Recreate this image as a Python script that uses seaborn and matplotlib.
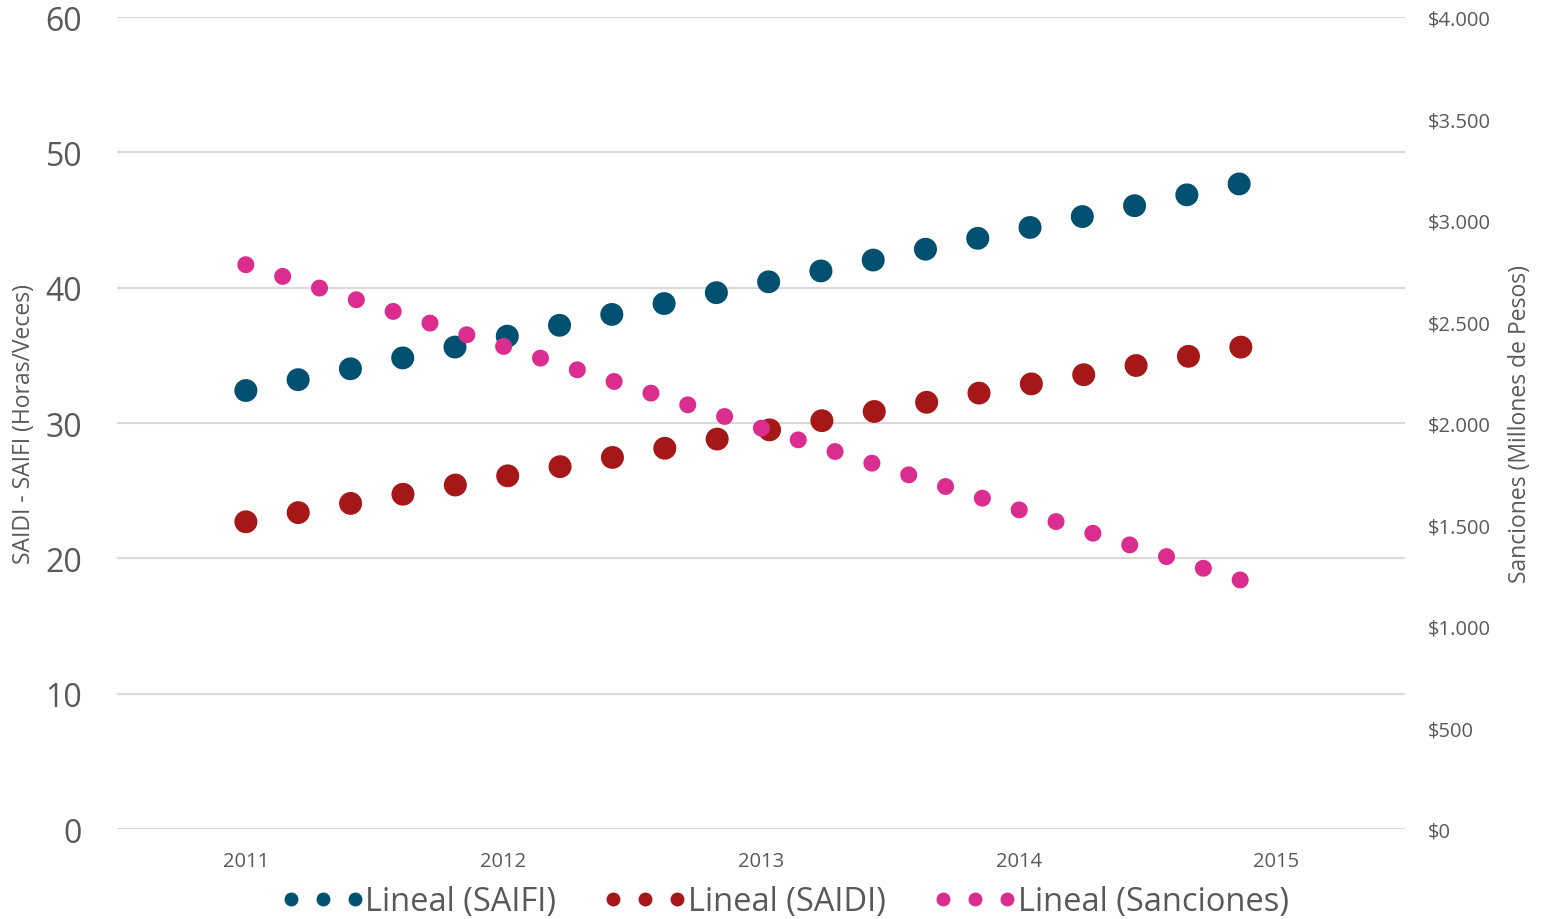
import numpy as np
import pandas as pd
import seaborn as sns
import matplotlib.pyplot as plt
from matplotlib.lines import Line2D
from matplotlib.ticker import FuncFormatter

# trend line end points (start year, end year)
trend_years = [2011.0, 2014.89]
saifi_trend = [32.4, 47.8]
saidi_trend = [22.7, 35.7]
sanciones_trend = [2780, 1215]

year_ticks = [2011, 2012, 2013, 2014, 2015]
left_ticks = [0, 10, 20, 30, 40, 50, 60]
right_ticks = [0, 500, 1000, 1500, 2000, 2500, 3000, 3500, 4000]

col_saifi = '#02506F'
col_saidi = '#A61717'
col_sanc = '#DB2C8F'
txt = '#595959'

sns.set_theme(style='white')
plt.rcParams['font.family'] = ['Open Sans', 'DejaVu Sans']

fig = plt.figure(figsize=(15.45, 9.2), dpi=100)
ax = fig.add_axes([0.0757, 0.0978, 0.8337, 0.8826])
ax2 = ax.twinx()

df_left = pd.DataFrame({'year': trend_years, 'SAIFI': saifi_trend, 'SAIDI': saidi_trend})
df_right = pd.DataFrame({'year': trend_years, 'Sanciones': sanciones_trend})

# dotted trend lines (round dots)
sns.lineplot(data=df_left, x='year', y='SAIFI', ax=ax, color=col_saifi, lw=16.5,
             linestyle=(0, (0.01, 2.32)), dash_capstyle='round')
sns.lineplot(data=df_left, x='year', y='SAIDI', ax=ax, color=col_saidi, lw=16.5,
             linestyle=(0, (0.01, 2.31)), dash_capstyle='round')
sns.lineplot(data=df_right, x='year', y='Sanciones', ax=ax2, color=col_sanc, lw=12.2,
             linestyle=(0, (0.01, 2.27)), dash_capstyle='round')

ax.set_xlim(2010.5, 2015.5)
ax.set_ylim(0, 60)
ax2.set_ylim(0, 4000)
ax.set_yticks(left_ticks)
ax2.set_yticks(right_ticks)
ax.set_xticks(year_ticks)
ax.set_xticklabels([str(y) for y in year_ticks])
ax2.yaxis.set_major_formatter(FuncFormatter(lambda v, p: '$' + f'{int(v):,}'.replace(',', '.')))

ax.grid(axis='y', color='#d9d9d9', lw=1.5)
ax.grid(axis='x', visible=False)
ax2.grid(False)
for a in (ax, ax2):
    for s in a.spines.values():
        s.set_visible(False)

ax.tick_params(axis='y', length=0, pad=25, labelsize=23, labelcolor=txt)
ax.tick_params(axis='x', length=0, pad=16, labelsize=14.5, labelcolor=txt)
ax2.tick_params(axis='y', length=0, pad=16.5, labelsize=14.5, labelcolor=txt)

ax.set_xlabel('')
ax.set_ylabel('SAIDI - SAIFI (Horas/Veces)', fontsize=16.5, color=txt, labelpad=7)
ax2.set_ylabel('Sanciones (Millones de Pesos)', fontsize=16.5, color=txt, labelpad=12)

handles = [Line2D([], [], ls='none', marker='o', ms=10, color=c, markeredgewidth=0)
           for c in (col_saifi, col_saidi, col_sanc)]
leg = fig.legend(handles, ['Lineal (SAIFI)', 'Lineal (SAIDI)', 'Lineal (Sanciones)'],
                 loc='center', bbox_to_anchor=(0.508, 1 - 903 / 920), ncol=3, frameon=False,
                 numpoints=3, handlelength=2.56, handletextpad=0.03, columnspacing=1.45,
                 prop={'family': ['Open Sans', 'DejaVu Sans'], 'size': 23.5})
for t in leg.get_texts():
    t.set_color(txt)

fig.savefig('out.png', dpi=100)
